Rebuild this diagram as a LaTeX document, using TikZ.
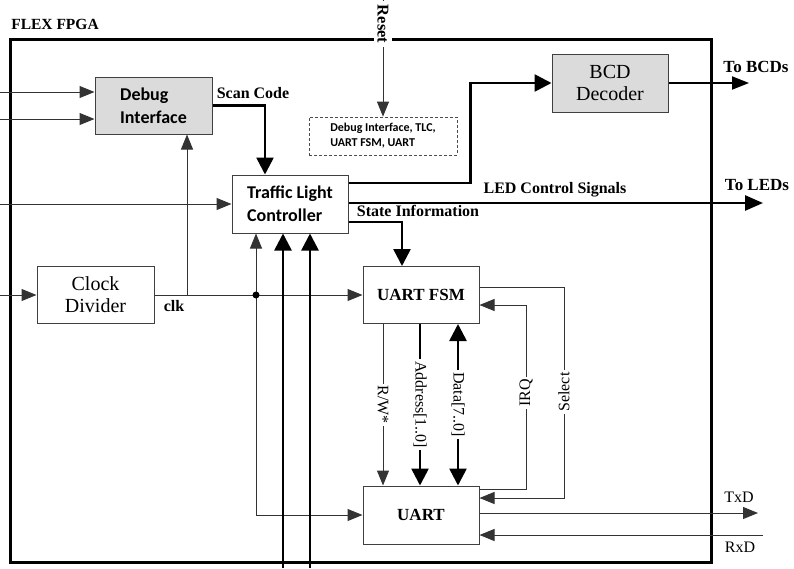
\documentclass[tikz,border=0pt]{standalone}
\usepackage{fontspec}
\setmainfont{Liberation Serif}
\newfontfamily\calfont{Carlito}
\usetikzlibrary{arrows.meta}

\begin{document}
\begin{tikzpicture}[
  x=1pt,y=-1pt,
  >={Triangle[length=15pt,width=12pt]},
  bigtip/.tip={Triangle[length=17pt,width=17pt]},
  block/.style={draw=black!75, line width=1pt, minimum width=116pt, minimum height=57pt, inner sep=0pt, align=center},
  shaded/.style={block, fill=black!14},
  sansbox/.style={font=\calfont\bfseries\fontsize{18}{23}\selectfont, align=left},
  serifbox/.style={font=\fontsize{20}{22}\selectfont},
  boldbox/.style={font=\bfseries\fontsize{17}{20}\selectfont},
  sig/.style={draw=black!80, line width=1pt},
  bus/.style={draw=black, line width=2.6pt, -bigtip},
  mid/.style={draw=black, line width=2pt, -{Triangle[length=17pt,width=13pt]}},
  tag/.style={font=\bfseries\fontsize{16}{18}\selectfont, inner sep=1pt},
  plaintag/.style={font=\fontsize{16}{18}\selectfont, inner sep=1pt},
  vtag/.style={font=\fontsize{16}{18}\selectfont, fill=white, inner xsep=2pt, inner ysep=0pt}
]
\path[use as bounding box] (0,0) rectangle (794,568);

% FPGA outline
\draw[line width=3pt] (10,39) rectangle (711,562);
\node[tag, font=\bfseries\fontsize{15.5}{18}\selectfont] (fpgalbl) at (55,24) {FLEX FPGA};

% Blocks
\node[shaded, sansbox, minimum width=117pt] (dbg) at (153.5,105.5) {Debug\\Interface};
\node[block, sansbox, minimum height=58pt] (tlc) at (290,204) {Traffic Light\\Controller};
\node[block, serifbox, minimum width=117pt] (clkdiv) at (95.5,295) {Clock\\Divider};
\node[shaded, serifbox, minimum height=58pt] (bcd) at (610,83) {BCD\\Decoder};
\node[block, boldbox] (fsm) at (421,295) {UART FSM};
\node[block, boldbox, minimum height=58pt] (uart) at (421,515) {UART};
\node[draw=black!70, densely dashed, line width=0.8pt, minimum width=148pt, minimum height=38pt,
  align=left, font=\calfont\bfseries\fontsize{12}{15}\selectfont] (rstbox) at (383,136)
  {Debug Interface, TLC,\\UART FSM, UART};

% Free ends at the picture edge
\coordinate (inA) at (0,92);
\coordinate (inB) at (0,119);
\coordinate (inC) at (0,204);
\coordinate (inD) at (0,295);
\coordinate (rsttop) at (383,0);
\coordinate (busA) at (283,568);
\coordinate (busB) at (310,568);
\coordinate (bcdend) at (749,0);
\coordinate (ledend) at (763,0);
\coordinate (txdend) at (758,0);
\coordinate (rxdin) at (763,535);
\coordinate (clkup) at (187,295);
\coordinate (clkdot) at (256,295);

% Inputs on the left
\draw[sig,->] (inA) -- (inA -| dbg.west);
\draw[sig,->] (inB) -- (inB -| dbg.west);
\draw[sig,->] (inC) -- (tlc.west);
\draw[sig,->] (inD) -- (clkdiv.west);

% Reset
\draw[sig,->] (rsttop) -- (rstbox.north);
\node[font=\bfseries\fontsize{16.5}{18}\selectfont, rotate=-90, fill=white, inner xsep=4pt, inner ysep=4pt] (rstlbl) at (383,24) {Reset};

% Clock distribution
\draw[sig,->] (clkdiv.east) -- (fsm.west);
\draw[sig,->] (clkup) -- (clkup |- dbg.south);
\draw[sig,<->] (tlc.south -| clkdot) |- (uart.west);
\fill (clkdot) circle[radius=3.5pt];
\node[tag, anchor=center] (clklbl) at (174,306) {clk};

% Scan code and external buses into the controller
\draw[bus] (dbg.east) -| ([xshift=-25pt]tlc.north);
\node[tag] (scanlbl) at (253,93) {Scan Code};
\draw[bus] (busA) -- (busA |- tlc.south);
\draw[bus] (busB) -- (busB |- tlc.south);

% Controller outputs
\draw[bus] ([yshift=21pt]tlc.east) -- ++(122,0) |- (bcd.west);
\draw[mid] (bcd.east) -- (bcd.east -| bcdend);
\node[tag, font=\bfseries\fontsize{17}{20}\selectfont] (tobcd) at (756,67) {To BCDs};
\draw[bus, -{Triangle[length=18pt,width=15pt]}] ([yshift=1pt]tlc.east) -- ([yshift=1pt]tlc.east -| ledend);
\node[tag] (ledlbl) at (555,190) {LED Control Signals};
\node[tag, font=\bfseries\fontsize{17}{20}\selectfont] (toled) at (757,185) {To LEDs};
\draw[bus] ([yshift=-18pt]tlc.east) -| ([xshift=-19pt]fsm.north);
\node[tag] (statelbl) at (418,211) {State Information};

% UART FSM to UART
\draw[sig,->] ([xshift=-38pt]fsm.south) -- ([xshift=-38pt]uart.north)
  node[vtag, midway, rotate=-90] (rwlbl) {R/W*};
\draw[bus] ([xshift=-1pt]fsm.south) -- ([xshift=-1pt]uart.north)
  node[vtag, midway, rotate=-90] (addrlbl) {Address[1..0]};
\draw[bus, bigtip-bigtip] ([xshift=37pt]fsm.south) -- ([xshift=37pt]uart.north)
  node[vtag, midway, rotate=-90] (datalbl) {Data[7..0]};
\draw[sig,->] ([yshift=26pt]uart.east) -- ++(47,0) |- ([yshift=-10pt]fsm.east);
\node[vtag, rotate=90] (irqlbl) at (526,393) {IRQ};
\draw[sig,->] ([yshift=7.5pt]fsm.east) -- ++(85,0) |- ([yshift=17pt]uart.east);
\node[vtag, rotate=90] (sellbl) at (564,392) {Select};

% Serial lines
\draw[sig,->] ([yshift=2pt]uart.east) -- ([yshift=2pt]uart.east -| txdend);
\node[plaintag] (txdlbl) at (739,497) {TxD};
\draw[sig,->] (rxdin) -- (rxdin -| uart.east);
\node[plaintag] (rxdlbl) at (740,547) {RxD};

\end{tikzpicture}
\end{document}
